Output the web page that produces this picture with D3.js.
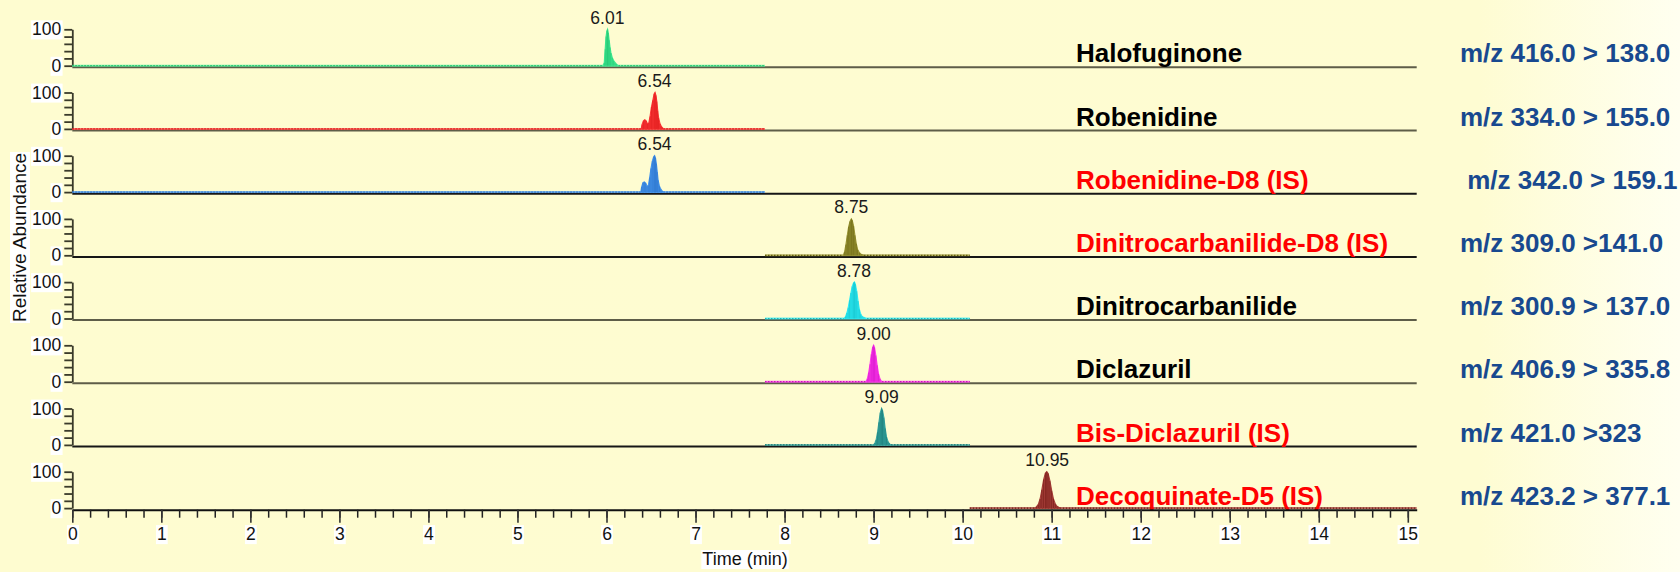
<!DOCTYPE html>
<meta charset="utf-8">

<!-- Load d3.js -->
<script src="https://d3js.org/d3.v7.min.js"></script>

<style>
  body {
    margin: 0;
    background-color: #fefcd0;
  }
  text {
    font-family: Arial, "Liberation Sans", sans-serif;
  }
</style>

<svg id="my_dataviz" width="1680" height="572" style="display:block"></svg>

<script>

// Compounds, one per panel, top to bottom
var compounds = ["Halofuginone", "Robenidine", "Robenidine-D8 (IS)", "Dinitrocarbanilide-D8 (IS)",
                 "Dinitrocarbanilide", "Diclazuril", "Bis-Diclazuril (IS)", "Decoquinate-D5 (IS)"]
var internalStd = [false, false, true, true, false, false, true, true]
var transitions = ["m/z 416.0 > 138.0", "m/z 334.0 > 155.0", " m/z 342.0 > 159.1", "m/z 309.0 >141.0",
                   "m/z 300.9 > 137.0", "m/z 406.9 > 335.8", "m/z 421.0 >323", "m/z 423.2 > 377.1"]
var retentionTimes = [6.01, 6.54, 6.54, 8.75, 8.78, 9.00, 9.09, 10.95]

// acquisition window of each trace (min)
var windows = [[0, 7.78], [0, 7.78], [0, 7.78], [7.78, 10.08],
               [7.78, 10.08], [7.78, 10.08], [7.78, 10.08], [10.08, 15.1]]

// peak profiles: [time (min), relative abundance]
var halofuginone = [[5.96,0],[5.975,8],[5.985,45],[5.995,80],[6.005,96],[6.012,100],[6.02,90],[6.03,70],
                    [6.04,50],[6.05,35],[6.065,22],[6.08,14],[6.095,9],[6.11,5],[6.13,0]]
var robenidine = [[6.39,0],[6.40,12],[6.415,22],[6.43,25],[6.445,22],[6.46,14],[6.475,16],[6.49,35],
                  [6.505,60],[6.52,78],[6.535,96],[6.545,100],[6.555,92],[6.565,75],[6.575,50],
                  [6.585,30],[6.60,15],[6.615,7],[6.63,3],[6.64,0]]
var robenidineD8 = [[6.385,0],[6.395,14],[6.41,26],[6.425,28],[6.44,25],[6.455,16],[6.47,18],[6.485,40],
                    [6.50,65],[6.515,85],[6.53,97],[6.54,100],[6.55,94],[6.56,78],[6.57,55],[6.58,32],
                    [6.595,16],[6.61,8],[6.625,3],[6.64,0]]
var dinitroD8 = [[8.66,0],[8.675,10],[8.69,30],[8.705,55],[8.72,78],[8.735,93],[8.75,100],[8.76,96],
                 [8.775,80],[8.79,55],[8.805,32],[8.82,16],[8.84,7],[8.86,3],[8.89,0]]
var dinitro = [[8.67,0],[8.685,5],[8.70,15],[8.715,30],[8.73,50],[8.745,70],[8.76,88],[8.775,98],
               [8.785,100],[8.795,94],[8.81,75],[8.825,48],[8.84,25],[8.855,12],[8.87,6],[8.89,3],[8.915,0]]
var diclazuril = [[8.915,0],[8.93,8],[8.945,25],[8.96,48],[8.975,75],[8.99,95],[9.00,100],[9.01,94],
                  [9.025,72],[9.04,45],[9.055,22],[9.07,9],[9.09,0]]
var bisDiclazuril = [[9.00,0],[9.015,5],[9.03,15],[9.045,35],[9.06,62],[9.075,88],[9.09,100],[9.10,95],
                     [9.115,75],[9.13,45],[9.145,22],[9.16,10],[9.175,4],[9.19,0]]
var decoquinate = [[10.81,0],[10.83,4],[10.85,10],[10.87,25],[10.89,50],[10.91,78],[10.93,96],[10.945,100],
                   [10.96,95],[10.98,75],[11.00,48],[11.02,25],[11.04,12],[11.06,5],[11.08,2],[11.10,0]]
var peaks = [halofuginone, robenidine, robenidineD8, dinitroD8, dinitro, diclazuril, bisDiclazuril, decoquinate]

var colors = ["#44f096", "#ff3a3a", "#4797ee", "#9a9636", "#30eef6", "#ff3cee", "#37a7a2", "#a8403a"]
var darkColors = ["#22c070", "#d81818", "#2a70c8", "#66620f", "#10bcc6", "#d010c4", "#177470", "#6a1410"]

// The svg
var svg = d3.select("svg"),
    width = +svg.attr("width"),
    height = +svg.attr("height");

// background, whitening towards the right edge
var grad = svg.append("defs").append("linearGradient").attr("id", "bg")
grad.append("stop").attr("offset", "0%").attr("stop-color", "#fefcd0")
grad.append("stop").attr("offset", "88%").attr("stop-color", "#fefcd2")
grad.append("stop").attr("offset", "100%").attr("stop-color", "#fffff0")
svg.append("rect").attr("width", width).attr("height", height).attr("fill", "url(#bg)")

// white box behind a text
function whiteBox(textSel) {
  textSel.each(function() {
    var b = this.getBBox()
    d3.select(this.parentNode).insert("rect", function() { return this.firstChild })
      .attr("x", b.x - 1).attr("y", b.y + 1).attr("width", b.width + 2).attr("height", b.height - 1)
      .attr("fill", "#fff")
  })
}

// time axis, shared by all panels
var x = d3.scaleLinear().domain([0, 15.1]).range([72.3, 1416.7])

var firstBase = 67.3, panelStep = 63.2

compounds.forEach(function(name, i) {
  var base = firstBase + i * panelStep
  var y = d3.scaleLinear().domain([0, 100]).range([base - 1.6, base - 38])
  var g = svg.append("g")

  // panel zero line (the bottom one is the time axis)
  if (i < compounds.length - 1) {
    g.append("line")
      .attr("x1", x(0)).attr("x2", x(15.1))
      .attr("y1", base).attr("y2", base)
      .attr("stroke", (i % 4 < 2) ? "#5e5d48" : "#161616")
      .attr("stroke-width", 2)
  }

  // y axis
  var ya = g.append("g")
    .attr("transform", "translate(" + x(0) + ",0)")
    .call(d3.axisLeft(y).tickValues([0, 20, 40, 60, 80, 100]).tickSize(8).tickSizeOuter(0).tickPadding(3)
      .tickFormat(function(d) { return (d == 0 || d == 100) ? d : "" }))
  ya.select(".domain").attr("stroke", "#3a3a2a").attr("stroke-width", 1.8)
  ya.selectAll(".tick line").attr("stroke", "#3a3a2a").attr("stroke-width", 1.8)
  ya.selectAll(".tick text")
    .style("font-size", "17.5px").style("font-family", "Arial, 'Liberation Sans', sans-serif")
    .attr("fill", "#111")
  ya.selectAll(".tick").each(function() {
    whiteBox(d3.select(this).select("text").filter(function() { return this.textContent != "" }))
  })

  // trace baseline inside its window
  var w = windows[i]
  g.append("line")
    .attr("x1", x(w[0])).attr("x2", x(w[1]))
    .attr("y1", y(0)).attr("y2", y(0))
    .attr("stroke", colors[i]).attr("stroke-opacity", 0.7).attr("stroke-width", 2)
  g.append("line")
    .attr("x1", x(w[0])).attr("x2", x(w[1]))
    .attr("y1", y(0)).attr("y2", y(0))
    .attr("stroke", darkColors[i]).attr("stroke-width", 1.2).attr("stroke-dasharray", "1.5,1.5")

  // peak
  var pk = peaks[i]
  g.append("path")
    .datum(pk)
    .attr("fill", colors[i])
    .attr("stroke", colors[i])
    .attr("stroke-width", 1.2)
    .attr("d", d3.area().x(function(d) { return x(d[0]) }).y0(y(0)).y1(function(d) { return y(d[1]) }))
  g.selectAll("line.stick")
    .data(pk)
    .enter()
    .append("line")
      .attr("class", "stick")
      .attr("x1", function(d) { return x(d[0]) }).attr("x2", function(d) { return x(d[0]) })
      .attr("y1", y(0)).attr("y2", function(d) { return y(d[1]) })
      .attr("stroke", darkColors[i]).attr("stroke-width", 0.6)

  // retention time label
  g.append("text")
    .attr("x", x(retentionTimes[i])).attr("y", base - 43.5)
    .attr("text-anchor", "middle")
    .style("font-size", "17.5px")
    .attr("fill", "#1a1a1a")
    .text(d3.format(".2f")(retentionTimes[i]))

  // compound name and transition
  g.append("text")
    .attr("x", 1076).attr("y", base - 5)
    .style("font-size", "26px").style("font-weight", "bold")
    .attr("fill", internalStd[i] ? "#ff0000" : "#000")
    .text(name)
  g.append("text")
    .attr("x", 1460).attr("y", base - 5)
    .style("font-size", "26px").style("font-weight", "bold").style("white-space", "pre")
    .attr("fill", "#18498f")
    .text(transitions[i])

  // time axis under the last panel
  if (i == compounds.length - 1) {
    var minor = g.append("g")
      .attr("transform", "translate(0," + base + ")")
      .call(d3.axisBottom(x).tickValues(d3.range(0, 75.5).map(function(k) { return k / 5 }))
        .tickSize(8).tickSizeOuter(0).tickFormat(""))
    minor.select(".domain").attr("stroke", "#111").attr("stroke-width", 2)
    minor.selectAll(".tick line").attr("stroke", "#222").attr("stroke-width", 1.5)

    var major = g.append("g")
      .attr("transform", "translate(0," + base + ")")
      .call(d3.axisBottom(x).tickValues(d3.range(0, 16)).tickSize(13).tickSizeOuter(0).tickPadding(5))
    major.select(".domain").remove()
    major.selectAll(".tick line").attr("stroke", "#333").attr("stroke-width", 1.6)
    major.selectAll(".tick text")
      .style("font-size", "17.5px").style("font-family", "Arial, 'Liberation Sans', sans-serif")
      .attr("fill", "#111")
    major.selectAll(".tick").each(function() { whiteBox(d3.select(this).select("text")) })
  }
})

// axis titles
var tg = svg.append("g")
var tt = tg.append("text")
  .attr("x", 745).attr("y", 565)
  .attr("text-anchor", "middle")
  .style("font-size", "18px")
  .attr("fill", "#111")
  .text("Time (min)")
whiteBox(tt)

var yg = svg.append("g").attr("transform", "translate(26,237.5) rotate(-90)")
var yt = yg.append("text")
  .attr("text-anchor", "middle")
  .style("font-size", "19px")
  .attr("fill", "#111")
  .text("Relative Abundance")
whiteBox(yt)

</script>
